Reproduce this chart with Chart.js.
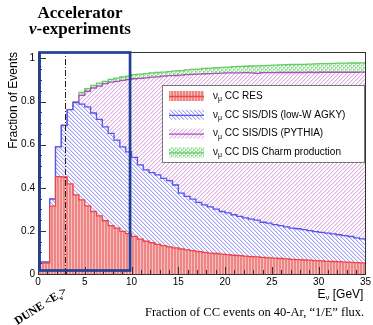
<!DOCTYPE html>
<html>
<head>
<meta charset="utf-8">
<script src="https://cdn.jsdelivr.net/npm/chart.js@4/dist/chart.umd.min.js"></script>
<style>
  html, body { margin: 0; padding: 0; background: #fff; }
  #wrap { position: relative; width: 373px; height: 325px; overflow: hidden; }
  #c { position: absolute; left: 0; top: 0; }
  .head { position: absolute; left: 0; top: 5px; width: 160px; text-align: center;
          font-family: "Liberation Serif", serif; font-weight: bold; font-size: 17px; line-height: 16px; }
  .head i { font-style: italic; }
  .caption { position: absolute; left: 145px; top: 305px; white-space: nowrap;
             font-family: "Liberation Serif", serif; font-size: 12.5px; line-height: 14px; }
  .dune { position: absolute; left: 12px; top: 299px; white-space: nowrap; transform: rotate(-33deg);
          transform-origin: center; font-family: "Liberation Serif", serif; font-weight: bold;
          font-size: 11.5px; line-height: 12px; }
  .dune sub { font-size: 7.5px; }
</style>
</head>
<body>
<div id="wrap">
  <canvas id="c" width="373" height="325"></canvas>
  <div class="head">Accelerator<br><i>ν</i><span>-experiments</span></div>
  <div class="dune">DUNE &lt;E<sub>ν</sub>&gt;</div>
  <div class="caption">Fraction of CC events on 40-Ar, “1/E” flux.</div>
</div>
<script>
// 56 energy bins of 0.625 GeV, fraction of CC events per process
const BIN_WIDTH = 0.625;

const res = [0.05, 0.315, 0.452, 0.45, 0.418, 0.367, 0.344, 0.316, 0.29, 0.27,
  0.247, 0.224, 0.213, 0.198, 0.187, 0.175, 0.162, 0.152, 0.145, 0.137,
  0.132, 0.126, 0.121, 0.116, 0.112, 0.108, 0.104, 0.1, 0.097, 0.095,
  0.092, 0.09, 0.087, 0.085, 0.083, 0.081, 0.079, 0.077, 0.075, 0.074,
  0.072, 0.07, 0.068, 0.067, 0.065, 0.064, 0.062, 0.061, 0.059, 0.058,
  0.057, 0.055, 0.054, 0.053, 0.052, 0.05];

const lowW = [0.005, 0.032, 0.138, 0.24, 0.345, 0.428, 0.444, 0.459, 0.457, 0.447,
  0.436, 0.428, 0.408, 0.392, 0.38, 0.366, 0.344, 0.331, 0.325, 0.323,
  0.312, 0.307, 0.292, 0.259, 0.248, 0.239, 0.228, 0.221, 0.214, 0.206,
  0.198, 0.194, 0.188, 0.182, 0.177, 0.174, 0.171, 0.163, 0.161, 0.155,
  0.152, 0.149, 0.145, 0.143, 0.141, 0.137, 0.135, 0.132, 0.131, 0.128,
  0.125, 0.123, 0.12, 0.115, 0.111, 0.108];

const pythia = [0, 0, 0, 0, 0, 0.002, 0.041, 0.073, 0.116, 0.155,
  0.2, 0.238, 0.273, 0.308, 0.336, 0.365, 0.402, 0.427, 0.443, 0.455,
  0.474, 0.487, 0.508, 0.548, 0.565, 0.579, 0.595, 0.608, 0.619, 0.63,
  0.642, 0.649, 0.658, 0.666, 0.674, 0.678, 0.681, 0.694, 0.698, 0.705,
  0.711, 0.716, 0.722, 0.725, 0.729, 0.735, 0.738, 0.743, 0.746, 0.75,
  0.754, 0.758, 0.762, 0.768, 0.774, 0.779];

const charm = [0, 0, 0, 0, 0, 0.001, 0.013, 0.012, 0.012, 0.014,
  0.011, 0.013, 0.015, 0.016, 0.015, 0.019, 0.019, 0.02, 0.02, 0.02,
  0.019, 0.019, 0.021, 0.021, 0.022, 0.023, 0.024, 0.025, 0.025, 0.026,
  0.027, 0.027, 0.029, 0.03, 0.03, 0.032, 0.035, 0.033, 0.034, 0.035,
  0.035, 0.036, 0.037, 0.038, 0.038, 0.038, 0.04, 0.04, 0.04, 0.041,
  0.042, 0.042, 0.043, 0.043, 0.043, 0.043];

const legendLabels = [' CC RES', ' CC SIS/DIS (low-W AGKY)', ' CC SIS/DIS (PYTHIA)', ' CC DIS Charm production'];
const xTicks = [0, 5, 10, 15, 20, 25, 30, 35];
const yTicks = [0, 0.2, 0.4, 0.6, 0.8, 1];
const duneMeanE = 2.85;
const boxRange = [0, 10];

const canvas = document.getElementById('c');
const ctx = canvas.getContext('2d');

// small tiles for the ROOT-like fill styles; pix = [x, y, colour]
function pattern(w, h, bg, pix) {
  const t = document.createElement('canvas');
  t.width = w; t.height = h;
  const g = t.getContext('2d');
  g.fillStyle = bg;
  g.fillRect(0, 0, w, h);
  pix.forEach(p => { g.fillStyle = p[2]; g.fillRect(p[0], p[1], 1, 1); });
  return ctx.createPattern(t, 'repeat');
}
function diag(n, dark, soft, up) {
  const pix = [];
  for (let i = 0; i < n; i++) {
    const yy = up ? n - 1 - i : i;
    pix.push([i, yy, dark]);
    pix.push([(i + 1) % n, yy, soft]);
  }
  return pix;
}
const resFill = pattern(3, 3, '#ef8686', [[2, 0, '#f8bebe'], [2, 1, '#f8bebe'], [2, 2, '#f8bebe']]);
const lowWFill = pattern(4, 4, '#ffffff', diag(4, '#a4a4f2', '#dcdcfa', false));
const pythiaFill = pattern(4, 4, '#ffffff', diag(4, '#deb0e2', '#f3e0f4', true));
const charmFill = pattern(4, 4, '#ffffff',
  diag(4, '#92dc92', '#d4f2d4', false).concat(diag(4, '#92dc92', '#d4f2d4', true)));

const colors = ['#f04444', '#5454f0', '#a652b4', '#66cc66'];
const fills = [resFill, lowWFill, pythiaFill, charmFill];

// bin i covers [i*w, (i+1)*w]; 'before' stepping holds each value up to its right edge
function steps(vals) {
  const pts = [{x: 0, y: vals[0]}];
  vals.forEach((v, i) => pts.push({x: (i + 1) * BIN_WIDTH, y: v}));
  return pts;
}

const FONT = '"Liberation Sans", Arial, sans-serif';

const decorations = {
  id: 'decorations',
  afterDatasetsDraw(chart) {
    const {ctx, chartArea: a, scales: {x, y}} = chart;
    ctx.save();

    // frame
    ctx.strokeStyle = '#333';
    ctx.lineWidth = 1;
    ctx.strokeRect(Math.round(a.left) + 0.5, Math.round(a.top) + 0.5,
      Math.round(a.right - a.left), Math.round(a.bottom - a.top));

    // inward ticks
    ctx.beginPath();
    for (let v = 0; v <= 35.001; v += 1) {
      const px = Math.round(x.getPixelForValue(v)) + 0.5;
      const len = v % 5 === 0 ? 7 : 4;
      ctx.moveTo(px, a.bottom); ctx.lineTo(px, a.bottom - len);
    }
    for (let k = 0; k <= 20; k++) {
      const py = Math.round(y.getPixelForValue(k * 0.05)) + 0.5;
      const len = k % 4 === 0 ? 8 : 4;
      ctx.moveTo(a.left, py); ctx.lineTo(a.left + len, py);
    }
    ctx.stroke();

    // DUNE mean energy
    ctx.setLineDash([6, 2, 1, 2]);
    ctx.strokeStyle = '#222';
    ctx.beginPath();
    const dx = Math.round(x.getPixelForValue(duneMeanE)) + 0.5;
    ctx.moveTo(dx, y.getPixelForValue(0));
    ctx.lineTo(dx, a.top);
    ctx.stroke();
    ctx.setLineDash([]);

    // legend
    const L = 162, T = 85, W = 202, H = 77;
    ctx.fillStyle = '#fff';
    ctx.fillRect(L, T, W, H);
    ctx.strokeStyle = '#777';
    ctx.strokeRect(L + 0.5, T + 0.5, W, H);
    legendLabels.forEach((lab, i) => {
      const cy = T + 11 + i * 18.8;
      ctx.fillStyle = fills[i];
      ctx.fillRect(L + 7, cy - 5, 35, 10);
      ctx.strokeStyle = colors[i];
      ctx.lineWidth = 1.3;
      ctx.beginPath();
      ctx.moveTo(L + 7, cy + 0.5); ctx.lineTo(L + 42, cy + 0.5);
      ctx.stroke();
      ctx.fillStyle = '#000';
      ctx.textBaseline = 'middle';
      ctx.textAlign = 'left';
      let tx = L + 51;
      ctx.font = '10px ' + FONT;
      ctx.fillText('ν', tx, cy);
      tx += ctx.measureText('ν').width;
      ctx.font = '7px ' + FONT;
      ctx.fillText('μ', tx, cy + 3);
      tx += ctx.measureText('μ').width;
      ctx.font = '10px ' + FONT;
      ctx.fillText(lab, tx, cy);
    });

    // x axis title  E_nu [GeV]
    ctx.fillStyle = '#000';
    ctx.textBaseline = 'alphabetic';
    ctx.textAlign = 'left';
    ctx.font = '12px ' + FONT;
    const rest = ' [GeV]';
    const wE = ctx.measureText('E').width, wR = ctx.measureText(rest).width;
    ctx.font = '8px ' + FONT;
    const wN = ctx.measureText('ν').width;
    let tx = a.right - 2 - wE - wN - wR;
    ctx.font = '12px ' + FONT;
    ctx.fillText('E', tx, 298);
    ctx.font = '8px ' + FONT;
    ctx.fillText('ν', tx + wE, 300);
    ctx.font = '12px ' + FONT;
    ctx.fillText(rest, tx + wE + wN, 298);

    // accelerator energy box
    ctx.strokeStyle = '#22409a';
    ctx.lineWidth = 2.7;
    const bl = x.getPixelForValue(boxRange[0]) + 1.6;
    const br = x.getPixelForValue(boxRange[1]) - 1.5;
    const bb = y.getPixelForValue(0) - 3.5;
    ctx.strokeRect(bl, a.top + 0.5, br - bl, bb - a.top - 0.5);
    ctx.restore();
  }
};

const series = [res, lowW, pythia, charm];

new Chart(ctx, {
  type: 'line',
  data: {
    datasets: series.map((vals, i) => ({
      label: legendLabels[i],
      data: steps(vals),
      stepped: 'before',
      fill: i === 0 ? 'origin' : '-1',
      backgroundColor: fills[i],
      borderColor: colors[i],
      borderWidth: 1.3,
      pointRadius: 0
    }))
  },
  options: {
    responsive: false,
    animation: false,
    devicePixelRatio: 1,
    layout: { padding: { top: 52, right: 6, bottom: 25, left: 0 } },
    plugins: { legend: { display: false }, tooltip: { enabled: false } },
    scales: {
      x: {
        type: 'linear',
        min: 0,
        max: 35,
        grid: { display: false, drawTicks: false },
        border: { display: false },
        ticks: {
          color: '#000', font: { family: FONT, size: 10 }, padding: 2, maxRotation: 0,
          callback: v => String(v)
        },
        afterBuildTicks: s => { s.ticks = xTicks.map(v => ({value: v})); },
        afterFit: s => { s.height = 26; }
      },
      y: {
        stacked: true,
        min: 0,
        max: 1.03,
        grid: { display: false, drawTicks: false },
        border: { display: false },
        ticks: {
          color: '#000', font: { family: FONT, size: 10 }, padding: 3,
          callback: v => String(+v.toFixed(2))
        },
        afterBuildTicks: s => { s.ticks = yTicks.map(v => ({value: v})); },
        afterFit: s => { s.width = 38; },
        title: {
          display: true, text: 'Fraction of Events', align: 'end', color: '#000',
          font: { family: FONT, size: 12 }, padding: { top: 6, bottom: 0 }
        }
      }
    }
  },
  plugins: [decorations]
});
</script>
</body>
</html>
